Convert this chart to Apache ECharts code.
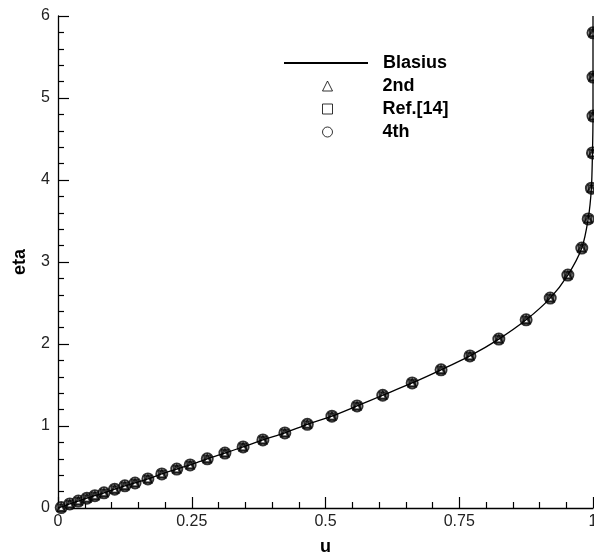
<!DOCTYPE html>
<html>
<head>
<meta charset="utf-8">
<script src="https://cdn.jsdelivr.net/npm/echarts@6/dist/echarts.min.js"></script>
<style>html,body{margin:0;padding:0;background:#fff;overflow:hidden}#c{width:594px;height:552px}</style>
</head>
<body>
<div id="c"></div>
<script>
// ---- data ----
const etaPts = [0.005, 0.05, 0.085, 0.12, 0.15, 0.185, 0.23, 0.27, 0.305, 0.355, 0.415, 0.475, 0.525, 0.6, 0.67, 0.745, 0.83, 0.915, 1.02, 1.12, 1.245, 1.375, 1.525, 1.685, 1.855, 2.06, 2.295, 2.56, 2.84, 3.17, 3.525, 3.9, 4.33, 4.78, 5.255, 5.795];
const u2nd   = [0.006, 0.022, 0.038, 0.054, 0.069, 0.086, 0.106, 0.125, 0.144, 0.168, 0.194, 0.222, 0.247, 0.279, 0.312, 0.346, 0.383, 0.424, 0.466, 0.512, 0.559, 0.607, 0.662, 0.716, 0.77, 0.824, 0.875, 0.92, 0.953, 0.979, 0.991, 0.997, 0.999, 1.0, 1.0, 1.0];
const uRef   = [0.006, 0.022, 0.038, 0.054, 0.069, 0.086, 0.106, 0.125, 0.144, 0.168, 0.194, 0.222, 0.247, 0.279, 0.312, 0.346, 0.383, 0.424, 0.466, 0.512, 0.559, 0.607, 0.662, 0.716, 0.77, 0.824, 0.875, 0.92, 0.953, 0.979, 0.991, 0.997, 0.999, 1.0, 1.0, 1.0];
const u4th   = [0.006, 0.022, 0.038, 0.054, 0.069, 0.086, 0.106, 0.125, 0.144, 0.168, 0.194, 0.222, 0.247, 0.279, 0.312, 0.346, 0.383, 0.424, 0.466, 0.512, 0.559, 0.607, 0.662, 0.716, 0.77, 0.824, 0.875, 0.92, 0.953, 0.979, 0.991, 0.997, 0.999, 1.0, 1.0, 1.0];
const blasiusEta = [0, 0.05, 0.085, 0.12, 0.15, 0.185, 0.23, 0.27, 0.305, 0.355, 0.415, 0.475, 0.525, 0.6, 0.67, 0.745, 0.83, 0.915, 1.02, 1.12, 1.245, 1.375, 1.525, 1.685, 1.855, 2.06, 2.295, 2.56, 2.84, 3.17, 3.525, 3.9, 4.33, 4.78, 5.255, 5.795, 6.0];
const blasiusU   = [0, 0.022, 0.038, 0.054, 0.069, 0.086, 0.106, 0.125, 0.144, 0.168, 0.194, 0.222, 0.247, 0.279, 0.312, 0.346, 0.383, 0.424, 0.466, 0.512, 0.559, 0.607, 0.662, 0.716, 0.77, 0.824, 0.875, 0.92, 0.953, 0.979, 0.991, 0.997, 0.999, 1.0, 1.0, 1.0, 1.0];
const xTicks = [0, 0.25, 0.5, 0.75, 1];
const yTicks = [0, 1, 2, 3, 4, 5, 6];
const seriesNames = ['Blasius', '2nd', 'Ref.[14]', '4th'];

const zip = (xs, ys) => xs.map((x, i) => [x, ys[i]]);
const FONT = '"Liberation Sans", Arial, sans-serif';
const legendText = pad => ({fontFamily: FONT, fontWeight: 'bold', fontSize: 18, color: '#000', lineHeight: 18, padding: [0, 0, 0, pad]});
const hollow = {color: '#fff', borderColor: '#000', borderWidth: 1};

const chart = echarts.init(document.getElementById('c'), null, {renderer: 'canvas'});
chart.setOption({
  animation: false,
  backgroundColor: '#fff',
  grid: {left: 58, right: 1, top: 16, bottom: 44, containLabel: false, outerBoundsMode: 'none'},
  legend: [
    {
      orient: 'vertical', left: 283, top: 54, padding: 0,
      itemWidth: 84, itemHeight: 9, itemGap: 5, selectedMode: false,
      data: [{name: seriesNames[0], itemStyle: {opacity: 0}}],
      textStyle: legendText(10)
    },
    {
      orient: 'vertical', left: 322, top: 77, padding: 0,
      itemWidth: 10, itemHeight: 10, itemGap: 5, selectedMode: false,
      data: [
        {name: seriesNames[1], icon: 'triangle', itemStyle: hollow},
        {name: seriesNames[2], icon: 'rect', itemStyle: hollow},
        {name: seriesNames[3], icon: 'circle', itemStyle: hollow}
      ],
      textStyle: legendText(45)
    }
  ],
  xAxis: {
    type: 'value', min: 0, max: 1, interval: 0.25,
    name: 'u', nameLocation: 'middle', nameGap: 30,
    nameTextStyle: {fontFamily: FONT, fontWeight: 'bold', fontSize: 18, color: '#000'},
    axisLine: {show: true, lineStyle: {color: '#000', width: 1.3}},
    axisTick: {show: true, inside: true, length: 11, lineStyle: {color: '#000', width: 1.2}},
    minorTick: {show: true, splitNumber: 5, length: 6, lineStyle: {color: '#000', width: 1.2}},
    splitLine: {show: false},
    axisLabel: {fontFamily: FONT, fontSize: 16, color: '#222', margin: 6,
      formatter: v => { const t = xTicks.find(k => Math.abs(k - v) < 1e-9); return t === undefined ? '' : String(t); }}
  },
  yAxis: {
    type: 'value', min: 0, max: 6, interval: 1,
    name: 'eta', nameLocation: 'middle', nameGap: 29, nameRotate: 90,
    nameTextStyle: {fontFamily: FONT, fontWeight: 'bold', fontSize: 18, color: '#000'},
    axisLine: {show: true, lineStyle: {color: '#000', width: 1.3}},
    axisTick: {show: true, inside: true, length: 11, lineStyle: {color: '#000', width: 1.2}},
    minorTick: {show: true, splitNumber: 5, length: 6, lineStyle: {color: '#000', width: 1.2}},
    splitLine: {show: false},
    axisLabel: {fontFamily: FONT, fontSize: 16, color: '#222', margin: 8,
      formatter: v => { const t = yTicks.find(k => Math.abs(k - v) < 1e-9); return t === undefined ? '' : String(t); }}
  },
  series: [
    {name: 'Blasius', type: 'line', data: zip(blasiusU, blasiusEta), symbol: 'none', smooth: 0.25, clip: false,
     lineStyle: {color: '#000', width: 1.3}, itemStyle: {color: '#000'}, z: 5},
    {name: '2nd', type: 'scatter', data: zip(u2nd, etaPts), symbol: 'emptyTriangle', symbolSize: 7, clip: false,
     itemStyle: {color: '#000', borderWidth: 1.2}, z: 4},
    {name: 'Ref.[14]', type: 'scatter', data: zip(uRef, etaPts), symbol: 'emptyRect', symbolSize: 6, clip: false,
     itemStyle: {color: '#000', borderWidth: 1.2}, z: 3},
    {name: '4th', type: 'scatter', data: zip(u4th, etaPts), symbol: 'emptyCircle', symbolSize: 11, clip: false,
     itemStyle: {color: '#000', borderWidth: 2}, z: 2}
  ]
});
</script>
</body>
</html>
